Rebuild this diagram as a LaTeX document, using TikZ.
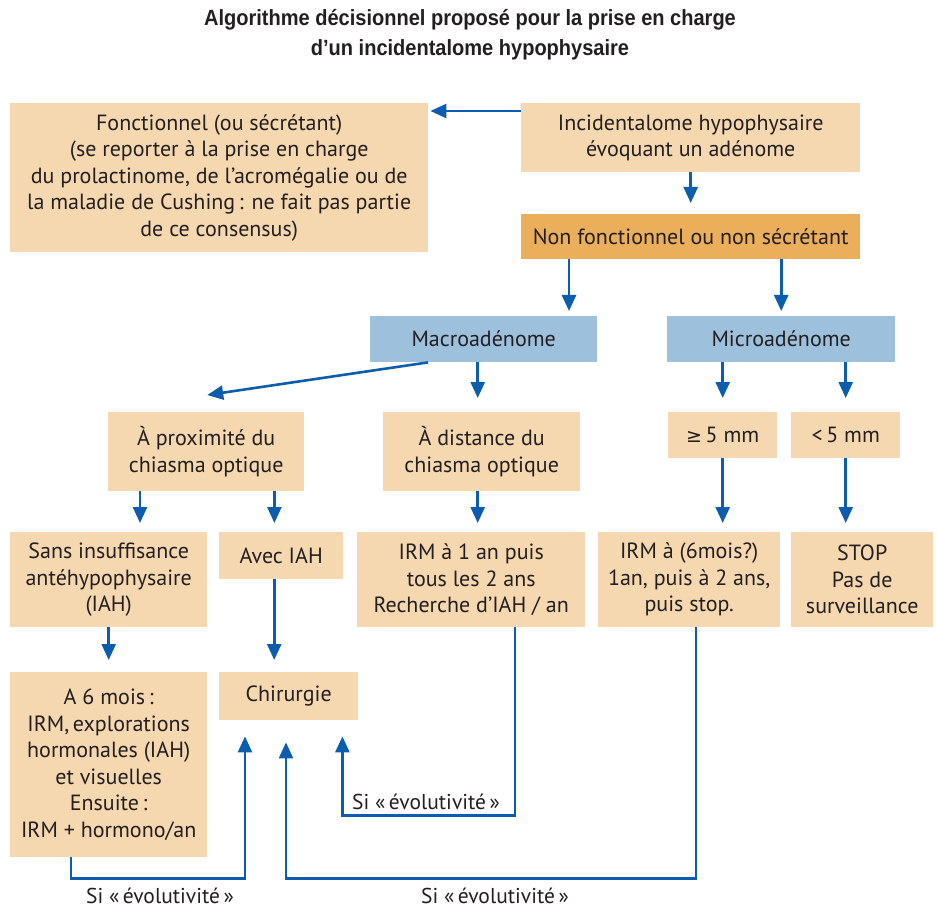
\documentclass[tikz,border=0pt]{standalone}
\usepackage{fontspec}
\setmainfont{PT Sans}
\newfontfamily\titlefont[FakeStretch=0.91]{Liberation Sans}
\newfontfamily\symfont{DejaVu Sans}
\usetikzlibrary{arrows.meta}
\definecolor{beige}{HTML}{F5D8AF}
\definecolor{dorange}{HTML}{EBAE5B}
\definecolor{lblue}{HTML}{9DC1DD}
\definecolor{arrblue}{HTML}{0C5DAE}
\definecolor{txt}{HTML}{231F20}
\begin{document}
\begin{tikzpicture}[x=1pt,y=-1pt,
  box/.style={fill=beige, draw=none, text=txt, align=center, inner sep=0pt, anchor=north west,
    font=\fontsize{22}{26.5}\selectfont},
  obox/.style={box, fill=dorange},
  bbox/.style={box, fill=lblue},
  arr/.style={draw=arrblue, line width=2.6pt, -{Triangle[length=16pt,width=14pt]}},
  lab/.style={text=txt, inner sep=0pt, font=\fontsize{21.5}{24}\selectfont},
  ttl/.style={text=txt, align=center, inner sep=0pt, font=\titlefont\bfseries\fontsize{22}{30}\selectfont}]
\useasboundingbox (0,0) rectangle (937,909);

\node[ttl] (title) at (470,35) {Algorithme décisionnel proposé pour la prise en charge\\d’un incidentalome hypophysaire};

\node[box, minimum width=418pt, minimum height=149pt] (fonc) at (10,103)
  {Fonctionnel (ou sécrétant)\\(se reporter à la prise en charge\\du prolactinome, de l’acromégalie ou de\\la maladie de Cushing\,: ne fait pas partie\\de ce consensus)};
\node[box, minimum width=339pt, minimum height=69pt] (incid) at (521,103)
  {Incidentalome hypophysaire\\évoquant un adénome};
\node[obox, minimum width=339pt, minimum height=45pt] (nonf) at (521,214)
  {Non fonctionnel ou non sécrétant};
\node[bbox, minimum width=227pt, minimum height=46pt] (macro) at (370,316) {Macroadénome};
\node[bbox, minimum width=228pt, minimum height=46pt] (micro) at (667,316) {Microadénome};
\node[box, minimum width=196pt, minimum height=79pt] (prox) at (108,412) {À proximité du\\chiasma optique};
\node[box, minimum width=197pt, minimum height=79pt] (dist) at (383,412) {À distance du\\chiasma optique};
\node[box, minimum width=109pt, minimum height=46pt] (ge5) at (668,412) {{\symfont\fontsize{19}{20}\selectfont ≥}\,5 mm};
\node[box, minimum width=109pt, minimum height=46pt] (lt5) at (791,412) {<\,5 mm};
\node[box, minimum width=197pt, minimum height=95pt] (sans) at (10,532) {Sans insuffisance\\antéhypophysaire\\(IAH)};
\node[box, minimum width=124pt, minimum height=47pt] (avec) at (219,532) {Avec IAH};
\node[box, minimum width=228pt, minimum height=95pt] (irm1) at (357,532) {IRM à 1 an puis\\tous les 2 ans\\Recherche d’IAH / an};
\node[box, minimum width=182pt, minimum height=95pt] (irm6) at (598,532) {IRM à (6mois?)\\1an, puis à 2 ans,\\puis stop.};
\node[box, minimum width=142pt, minimum height=95pt] (stop) at (791,532) {STOP\\Pas de\\surveillance};
\node[box, minimum width=197pt, minimum height=185pt] (a6) at (10,672) {A 6 mois\,:\\IRM,\,explorations\\hormonales (IAH)\\et visuelles\\Ensuite\,:\\IRM + hormono/an};
\node[box, minimum width=139pt, minimum height=48pt] (chir) at (219,672) {Chirurgie};

\node[lab, anchor=west] (lab1) at (352,802) {Si «\,évolutivité\,»};
\node[lab] (lab2) at (160,896) {Si «\,évolutivité\,»};
\node[lab] (lab3) at (495,896) {Si «\,évolutivité\,»};

\draw[arr] ([yshift=-8pt]incid.north west) -- ([yshift=-8pt,xshift=2pt]fonc.north east);
\draw[arr, shorten >=11pt] (incid.south) -- (nonf.north);
\draw[arr, shorten >=5pt] ([xshift=48pt]nonf.south west) -- ([xshift=48pt]nonf.south west |- macro.north);
\draw[arr, shorten >=5pt] (nonf.south -| micro.north) -- (micro.north);
\draw[arr] ([xshift=58pt]macro.south west) -- ([yshift=17pt,xshift=1pt]prox.north);
\draw[arr, shorten >=14pt] ([xshift=-6pt]macro.south) -- ([xshift=-6pt]macro.south |- dist.north);
\draw[arr, shorten >=14pt] (ge5.north |- micro.south) -- (ge5.north);
\draw[arr, shorten >=14pt] (lt5.north |- micro.south) -- (lt5.north);
\draw[arr, shorten >=9pt] ([xshift=32pt]prox.south west) -- ([xshift=32pt]prox.south west |- sans.north);
\draw[arr, shorten >=9pt] ([xshift=-30pt]prox.south east) -- ([xshift=-30pt]prox.south east |- avec.north);
\draw[arr, shorten >=9pt] ([xshift=-4pt]dist.south) -- ([xshift=-4pt]dist.south |- irm1.north);
\draw[arr, shorten >=9pt] (ge5.south) -- (ge5.south |- irm6.north);
\draw[arr, shorten >=9pt] (lt5.south) -- (lt5.south |- stop.north);
\draw[arr, shorten >=12pt] (sans.south) -- (sans.south |- a6.north);
\draw[arr, shorten >=12pt] ([xshift=-7pt]avec.south) -- ([xshift=-7pt]avec.south |- chir.north);
\draw[arr, shorten >=16pt] ([xshift=61pt]a6.south west) |- ++(174,21) coordinate (c1) -- (c1 |- chir.south);
\draw[arr, shorten >=16pt] ([xshift=158pt]irm1.south west) |- ([xshift=-16pt,yshift=-95pt]chir.south east) -- ([xshift=-16pt]chir.south east);
\draw[arr, shorten >=22pt] ([xshift=98pt]irm6.south west) |- ([xshift=67pt,yshift=-158pt]chir.south west) -- ([xshift=67pt]chir.south west);
\end{tikzpicture}
\end{document}
